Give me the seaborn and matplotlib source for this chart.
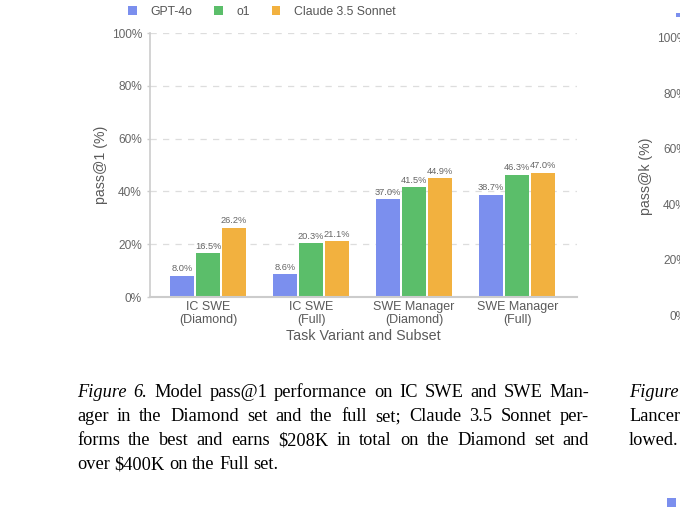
import numpy as np
import pandas as pd
import matplotlib
matplotlib.use("Agg")
import matplotlib.pyplot as plt
import seaborn as sns
from matplotlib.patches import Rectangle

# ---------------- data ----------------
categories = ["IC SWE\n(Diamond)", "IC SWE\n(Full)", "SWE Manager\n(Diamond)", "SWE Manager\n(Full)"]
models = ["GPT-4o", "o1", "Claude 3.5 Sonnet"]
gpt4o = [8.0, 8.6, 37.0, 38.7]
o1 = [16.5, 20.3, 41.5, 46.3]
claude = [26.2, 21.1, 44.9, 47.0]
yticks = [0, 20, 40, 60, 80, 100]
colors = ["#7B8FEE", "#5BBE6A", "#F2B13F"]

caption_lines = [
    [("Figure", "italic"), ("6.", "italic"), ("Model", "normal"), ("pass@1", "normal"),
     ("performance", "normal"), ("on", "normal"), ("IC", "normal"), ("SWE", "normal"),
     ("and", "normal"), ("SWE", "normal"), ("Man-", "normal")],
    [(w, "normal") for w in "ager in the Diamond set and the full set; Claude 3.5 Sonnet per-".split()],
    [(w, "normal") for w in "forms the best and earns $208K in total on the Diamond set and".split()],
    [(w, "normal") for w in "over $400K on the Full set.".split()],
]
right_caption = [("Figure", "italic"), ("Lancer", "normal"), ("lowed.", "normal")]

df = pd.DataFrame({
    "task": categories * 3,
    "model": [m for m in models for _ in categories],
    "value": gpt4o + o1 + claude,
})

sns.set_theme(style="white")
plt.rcParams["font.family"] = ["Liberation Sans", "DejaVu Sans"]

W, H = 680, 511
fig = plt.figure(figsize=(6.8, 5.11), dpi=100)
fig.patch.set_facecolor("white")

def fx(px):
    return px / W

def fy(py):
    return 1 - py / H

ax = fig.add_axes([fx(150), fy(297), fx(577) - fx(150), fy(33) - fy(297)])
sns.barplot(data=df, x="task", y="value", hue="model", palette=colors,
            width=0.76, gap=0.09, ax=ax, saturation=1, legend=True,
            edgecolor="none", linewidth=0)

grey = "#cccccc"
txt = "#666666"
ax.set_ylim(0, 100)
ax.set_xlim(-0.563, 3.58)
ax.set_yticks(yticks)
ax.set_yticklabels([f"{v}%" for v in yticks], color=txt, fontsize=8.6)
ax.tick_params(axis="y", length=2.5, width=1, color=grey, pad=3.3, left=True)
ax.tick_params(axis="x", length=0, pad=3, labelsize=9, labelcolor="#5a5a5a")
for lab in ax.get_xticklabels():
    lab.set_linespacing(1.1)
ax.set_xlabel("Task Variant and Subset", fontsize=10.3, color="#5a5a5a", labelpad=2)
ax.set_ylabel("pass@1 (%)", fontsize=10.2, color="#5a5a5a", labelpad=2.5)
for side in ["top", "right"]:
    ax.spines[side].set_visible(False)
ax.spines["left"].set_color(grey)
ax.spines["bottom"].set_color(grey)
ax.spines["left"].set_linewidth(1.2)
ax.spines["bottom"].set_linewidth(1.5)
ax.yaxis.grid(True, color="#dddddd", linestyle=(0, (5, 5)), linewidth=0.9)
ax.set_axisbelow(True)

for cont in ax.containers:
    ax.bar_label(cont, labels=[f"{v:.1f}%" for v in cont.datavalues],
                 fontsize=6.7, color=txt, padding=2)

handles, labels = ax.get_legend_handles_labels()
ax.legend_.remove()
fig.legend(handles, labels, loc="center", bbox_to_anchor=(fx(262), fy(12)),
           ncol=3, frameon=False, fontsize=8.8, handlelength=0.7, handleheight=0.7,
           handletextpad=1.1, columnspacing=1.8, labelcolor="#555555")

# partially visible right-hand chart (only its y ticks / label are in view)
ax2 = fig.add_axes([fx(695), fy(315), 0.4, fy(38) - fy(315)])
ax2.set_ylim(0, 100)
ax2.set_yticks(yticks)
ax2.set_yticklabels([f"{v}%" for v in yticks], color=txt, fontsize=8.6)
ax2.tick_params(axis="y", length=2.5, color=grey, pad=3.3)
ax2.set_xticks([])
ax2.set_ylabel("pass@k (%)", fontsize=10.2, color="#5a5a5a", labelpad=2.5)
for s in ax2.spines.values():
    s.set_visible(False)
ax2.patch.set_alpha(0)
fig.patches.append(Rectangle((fx(676), fy(17)), fx(5), 4 / H, transform=fig.transFigure,
                             color=colors[0], lw=0))
fig.patches.append(Rectangle((fx(667), fy(507)), fx(9), 9 / H, transform=fig.transFigure,
                             color=colors[0], lw=0))

# ---------------- caption (justified) ----------------
fig.canvas.draw()
renderer = fig.canvas.get_renderer()
serif = ["Liberation Serif", "DejaVu Serif"]
cap_fs = 13.2
left_px, right_px = 77, 589
line_y = [397, 421, 445, 469]

def word_width(word, style):
    t = fig.text(0, 0, word, fontsize=cap_fs, family=serif, style=style)
    w = t.get_window_extent(renderer).width
    t.remove()
    return w

space_w = word_width("a b", "normal") - word_width("ab", "normal")
for i, (words, y) in enumerate(zip(caption_lines, line_y)):
    widths = [word_width(w, s) for w, s in words]
    if i < len(caption_lines) - 1:
        gap = (right_px - left_px - sum(widths)) / (len(words) - 1)
    else:
        gap = space_w
    x = left_px
    for (w, s), ww in zip(words, widths):
        fig.text(fx(x), fy(y), w, fontsize=cap_fs, family=serif, style=s,
                 va="baseline", ha="left", color="black")
        x += ww + gap

for (w, s), y in zip(right_caption, line_y[:3]):
    fig.text(fx(629), fy(y), w, fontsize=cap_fs, family=serif, style=s,
             va="baseline", ha="left", color="black")

fig.savefig("out.png", dpi=100)
